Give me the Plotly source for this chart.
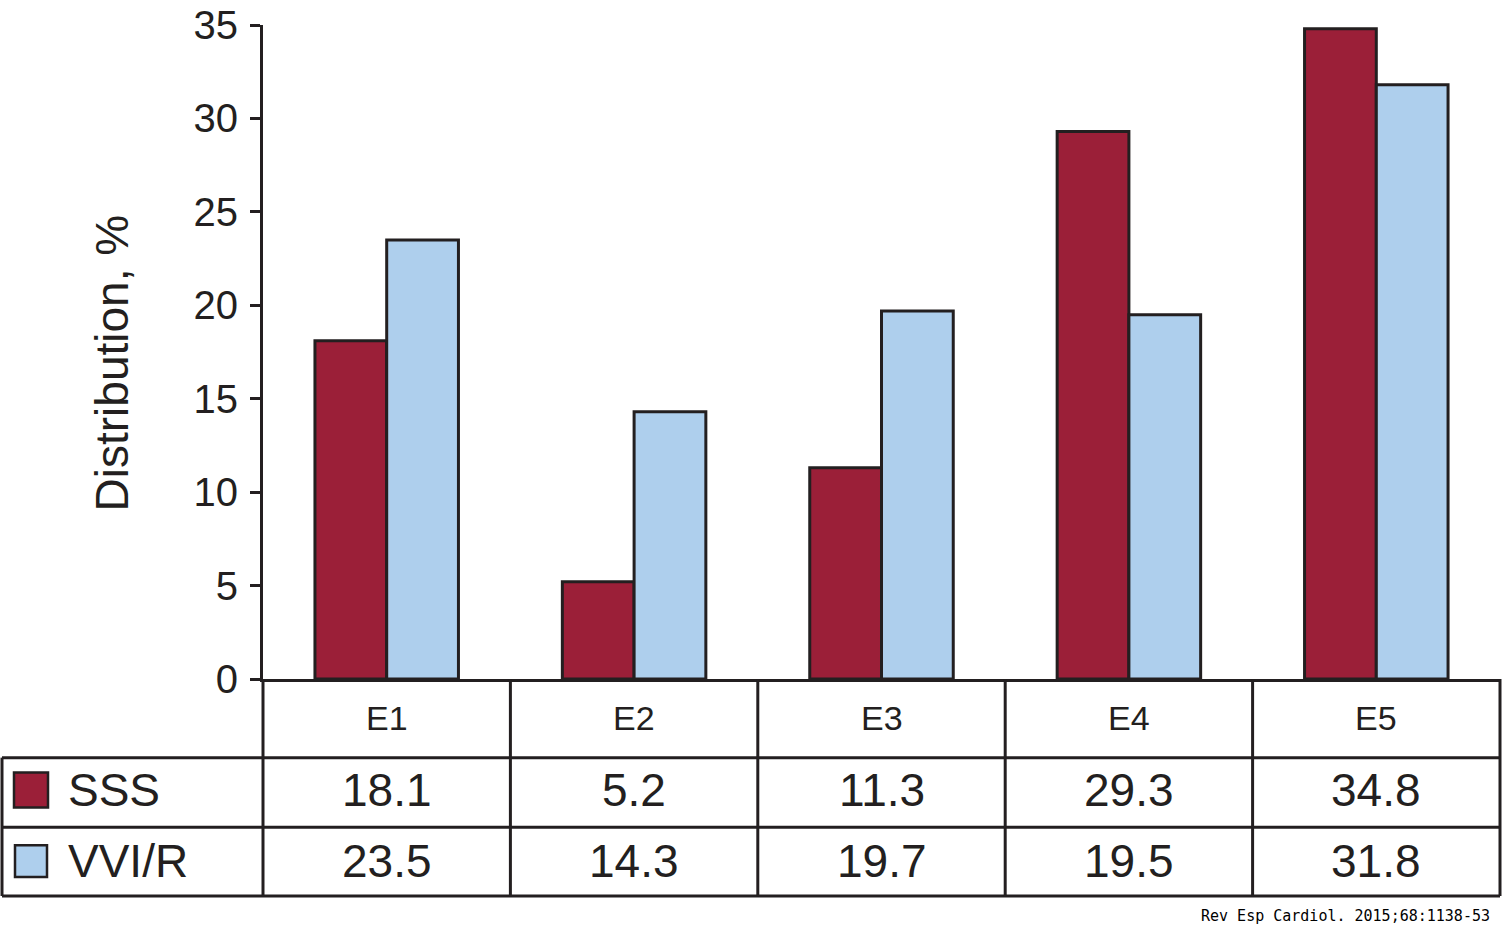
import plotly.graph_objects as go

# data
categories = ["E1", "E2", "E3", "E4", "E5"]
sss = [18.1, 5.2, 11.3, 29.3, 34.8]
vvir = [23.5, 14.3, 19.7, 19.5, 31.8]
series_names = ["SSS", "VVI/R"]
y_ticks = [0, 5, 10, 15, 20, 25, 30, 35]

RED = "#9b1f38"
BLUE = "#aecfed"
INK = "#231f20"
FONT = "Liberation Sans, Arial, sans-serif"

W, H = 1503, 940
ML, MR, MT, MB = 263, 3, 22, 261
PW = W - ML - MR
PH = H - MT - MB


def py(pix):
    # pixel row -> paper y
    return (H - MB - pix) / PH


def px(pix):
    # pixel column -> paper x
    return (pix - ML) / PW


xpos = list(range(len(categories)))

fig = go.Figure()
fig.add_trace(go.Bar(x=xpos, y=sss, name=series_names[0],
                     marker=dict(color=RED, line=dict(color=INK, width=3))))
fig.add_trace(go.Bar(x=xpos, y=vvir, name=series_names[1],
                     marker=dict(color=BLUE, line=dict(color=INK, width=3))))

# table rows (pixel rows of the borders)
row_top, row1, row2, row3 = 679, 758, 828, 897
left = 2

shapes = []
line = dict(color=INK, width=3)
# horizontal lines
for r in (row1, row2, row3):
    shapes.append(dict(type="line", xref="paper", yref="paper", x0=px(left), x1=1, y0=py(r), y1=py(r), line=line))
# vertical lines
n = len(categories)
for i in range(n + 1):
    shapes.append(dict(type="line", xref="paper", yref="paper", x0=i / n, x1=i / n, y0=0, y1=py(row3), line=line))
shapes.append(dict(type="line", xref="paper", yref="paper", x0=px(left), x1=px(left), y0=py(row1), y1=py(row3), line=line))
# legend swatches
shapes.append(dict(type="rect", xref="paper", yref="paper", x0=px(14), x1=px(48), y0=py(773), y1=py(808),
                   fillcolor=RED, line=dict(color=INK, width=2.5)))
shapes.append(dict(type="rect", xref="paper", yref="paper", x0=px(15), x1=px(47), y0=py(846), y1=py(878),
                   fillcolor=BLUE, line=dict(color=INK, width=2.5)))

ann = []
for i, c in enumerate(categories):
    xc = (i + 0.5) / n
    ann.append(dict(x=xc, y=py(718), text=c, font=dict(size=34)))
    ann.append(dict(x=xc, y=py(791), text=f"{sss[i]:.1f}", font=dict(size=46)))
    ann.append(dict(x=xc, y=py(862), text=f"{vvir[i]:.1f}", font=dict(size=46)))
ann.append(dict(x=px(66), y=py(791), text=series_names[0], xanchor="left", font=dict(size=46)))
ann.append(dict(x=px(66), y=py(862), text=series_names[1], xanchor="left", font=dict(size=46)))
ann.append(dict(x=px(112), y=py(362), text="Distribution, %", textangle=-90, font=dict(size=46)))
ann.append(dict(x=px(1492), y=py(917), text="Rev Esp Cardiol. 2015;68:1138-53", xanchor="right",
                font=dict(size=15, family="DejaVu Sans Mono", color="#000000")))
for a in ann:
    a.update(xref="paper", yref="paper", showarrow=False, yanchor="middle")
    a.setdefault("xanchor", "center")
    a["font"].setdefault("color", INK)
    a["font"].setdefault("family", FONT)

fig.update_layout(
    width=W, height=H,
    margin=dict(l=ML, r=MR, t=MT, b=MB),
    paper_bgcolor="white", plot_bgcolor="white",
    barmode="group", bargap=0.42, bargroupgap=0,
    showlegend=False,
    font=dict(family=FONT, color=INK),
    shapes=shapes, annotations=ann,
)
fig.update_xaxes(range=[-0.5, n - 0.5], showticklabels=False, ticks="", showgrid=False,
                 zeroline=False, showline=True, linecolor=INK, linewidth=3)
fig.update_yaxes(range=[0, 35], tickvals=y_ticks, ticks="outside", ticklen=10, tickwidth=3,
                 tickcolor=INK, showline=True, linecolor=INK, linewidth=3, showgrid=False,
                 zeroline=False, ticklabelstandoff=4, tickfont=dict(size=40, color=INK))

fig.write_html("out.html", config={"displayModeBar": False},
               post_script="document.body.style.margin='0';")
